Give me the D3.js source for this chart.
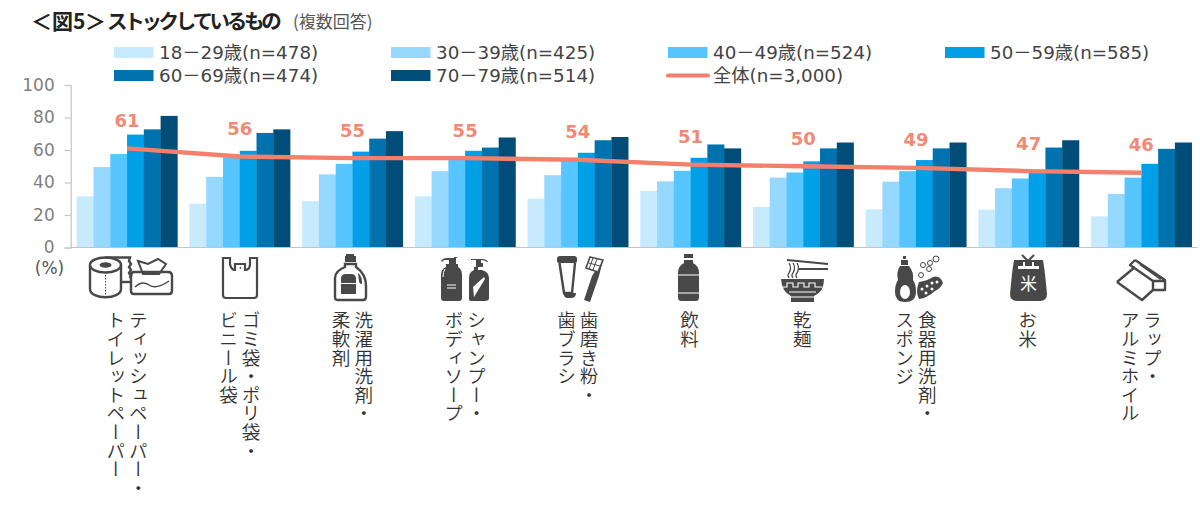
<!DOCTYPE html>
<html lang="ja">
<head>
<meta charset="utf-8">
<title>ストックしているもの</title>
<script src="https://cdn.jsdelivr.net/npm/d3@7/dist/d3.min.js"></script>
<style>
  html, body { margin: 0; padding: 0; background: #fff; }
  svg { display: block; }
  text { font-family: "DejaVu Sans", "Noto Sans CJK JP", sans-serif; }
  .cjk { font-family: "Noto Sans CJK JP", sans-serif; }
  .axis-x, .axis-y path, .axis-y line { stroke: #c4c4c4; }
  .vlabel { writing-mode: vertical-rl; font-size: 18.6px; fill: #333; font-family: "Noto Sans CJK JP", sans-serif; font-weight: 350; }
</style>
</head>
<body>
<svg id="chart" width="1200" height="515" lang="ja"></svg>
<script>
// Stock items, each with its vertical label split into columns (right column first)
const categories = ["tissue", "bags", "detergent", "shampoo", "dental", "drinks", "noodles", "dish", "rice", "wrap"];
const categoryLabels = [
  ["ティッシュペーパー・", "トイレットペーパー"],
  ["ゴミ袋・ポリ袋・", "ビニール袋"],
  ["洗濯用洗剤・", "柔軟剤"],
  ["シャンプー・", "ボディソープ"],
  ["歯磨き粉・", "歯ブラシ"],
  ["飲料"],
  ["乾麺"],
  ["食器用洗剤・", "スポンジ"],
  ["お米"],
  ["ラップ・", "アルミホイル"]
];

// Share of respondents per age group (%)
const age18to29 = [31.5, 27, 28.5, 31.5, 30, 34.8, 25, 23.5, 23.3, 19.2];
const age30to39 = [49.5, 43.5, 45, 47, 44.5, 40.7, 43, 40.5, 36.5, 33];
const age40to49 = [57.5, 55.5, 51.5, 54.5, 53.5, 47.2, 46.2, 47, 42.5, 43];
const age50to59 = [69.5, 59.5, 59, 59.5, 58.3, 55.2, 53, 53.8, 46.5, 51.5];
const age60to69 = [72.7, 70.5, 67, 61.5, 66, 63.4, 61, 61, 61.5, 60.7];
const age70to79 = [81, 72.7, 71.6, 67.7, 68, 61, 64.6, 64.6, 66, 64.6];
const overall = [61, 56, 55, 55, 54, 51, 50, 49, 47, 46];

const ageSeries = [age18to29, age30to39, age40to49, age50to59, age60to69, age70to79];
const ageColors = ["#c8eaff", "#96d8ff", "#57c5ff", "#009fe8", "#0072ad", "#004e78"];
const ageLegend = ["18－29歳(n=478)", "30－39歳(n=425)", "40－49歳(n=524)", "50－59歳(n=585)", "60－69歳(n=474)", "70－79歳(n=514)"];
const overallLegend = "全体(n=3,000)";
const yTicks = [0, 20, 40, 60, 80, 100];

const INK = "#484848";
const LINE = "#f47f6c";
const svg = d3.select("#chart");

const x = d3.scaleBand().domain(categories).range([70.7, 1197.7]).paddingInner(0.107).paddingOuter(0.0535);
const xAge = d3.scaleBand().domain(d3.range(ageSeries.length)).range([0, x.bandwidth()]);
const y = d3.scaleLinear().domain([0, 100]).range([247.5, 85]);
const cx = c => x(c) + x.bandwidth() / 2;

// Title: the bracketed figure number and the tighter kana run are set separately
const titleParts = [
  { text: "＜", at: 31 }, { text: "図", at: 52 }, { text: "5", at: 73 }, { text: "＞", at: 85 }
];
titleParts.forEach(p => {
  svg.append("text").attr("class", "cjk").attr("x", p.at).attr("y", 29).attr("font-size", 21)
    .attr("font-weight", 700).attr("fill", "#222").text(p.text);
});
svg.append("text").attr("class", "cjk").attr("x", 107).attr("y", 29).attr("font-size", 20.5)
  .attr("font-weight", 700).attr("fill", "#222").attr("letter-spacing", -3.3).text("ストックしているもの");
svg.append("text").attr("x", 293).attr("y", 28).attr("class", "cjk").attr("font-size", 17).attr("fill", "#555").text("(複数回答)");

// Legend: four columns across the top row, the rest on the second
const legendX = [114, 391, 668, 945];
const legendY = [52.5, 75.5];
ageLegend.forEach((label, i) => {
  const lx = legendX[i < 4 ? i : i - 4], ly = legendY[i < 4 ? 0 : 1];
  svg.append("rect").attr("x", lx).attr("y", ly - 5.5).attr("width", 39.5).attr("height", 11).attr("fill", ageColors[i]);
  svg.append("text").attr("x", lx + 45).attr("y", ly + 6.4).attr("font-size", 18.3).attr("fill", "#444").text(label);
});
svg.append("line").attr("x1", 668).attr("x2", 708).attr("y1", legendY[1]).attr("y2", legendY[1])
  .attr("stroke", LINE).attr("stroke-width", 4).attr("stroke-linecap", "round");
svg.append("text").attr("x", 713).attr("y", legendY[1] + 6.4).attr("font-size", 18.3).attr("fill", "#444").text(overallLegend);

// Bars
const groups = svg.append("g").selectAll("g").data(categories).join("g")
  .attr("transform", d => `translate(${x(d)},0)`);
groups.each(function (c, ci) {
  d3.select(this).selectAll("rect").data(ageSeries.map(s => s[ci])).join("rect")
    .attr("x", (d, i) => xAge(i))
    .attr("y", d => y(d))
    .attr("width", xAge.bandwidth() + 0.3)
    .attr("height", d => y(0) - y(d))
    .attr("fill", (d, i) => ageColors[i]);
});

// Value axis and baseline
const yAxis = svg.append("g").attr("class", "axis-y").attr("transform", "translate(70.7,0)")
  .call(d3.axisLeft(y).tickValues(yTicks).tickSize(6).tickPadding(10));
yAxis.selectAll("path, line").attr("stroke", "#c4c4c4").attr("stroke-width", 1.2);
yAxis.selectAll("text").attr("font-size", 17).attr("fill", "#7f7f7f").attr("font-family", '"DejaVu Sans", sans-serif');
svg.append("line").attr("class", "axis-x").attr("x1", 70.7).attr("x2", 1197.7).attr("y1", y(0)).attr("y2", y(0)).attr("stroke-width", 1.2);
svg.append("text").attr("x", 49.5).attr("y", 274).attr("text-anchor", "middle").attr("font-size", 17).attr("fill", "#555").text("(%)");

// Overall line with its value labels
const overallLine = d3.line().x((d, i) => cx(categories[i])).y(d => y(d));
svg.append("path").datum(overall).attr("d", overallLine).attr("fill", "none")
  .attr("stroke", LINE).attr("stroke-width", 4.4).attr("stroke-linejoin", "round");
svg.append("g").selectAll("text").data(overall).join("text")
  .attr("x", (d, i) => cx(categories[i]))
  .attr("y", d => y(d) - 21.5)
  .attr("text-anchor", "middle")
  .attr("font-size", 18)
  .attr("font-weight", 700)
  .attr("fill", "#f08a76")
  .text(d => d);

// Vertical category labels, columns read right to left
categoryLabels.forEach((cols, i) => {
  const c = cx(categories[i]);
  const gap = 22.6;
  cols.forEach((txt, k) => {
    const offset = cols.length === 1 ? -1 : (k === 0 ? gap / 2 : -gap / 2);
    svg.append("text").attr("class", "vlabel").attr("lang", "ja")
      .attr("x", c + offset).attr("y", 311).text(txt);
  });
});

// Pictograms, each drawn in its own local coordinates and placed under its category
const icons = {
  tissue(g) {
    const o = g.append("g").attr("fill", "none").attr("stroke", INK).attr("stroke-width", 2.4);
    o.append("path").attr("d", "M0,8 V32 C0,43 31,43 31,32 V8");
    o.append("ellipse").attr("cx", 15.5).attr("cy", 8).attr("rx", 15.5).attr("ry", 7.5);
    o.append("path").attr("d", "M15.5,0.5 H40 L39,4 L41,7 L39,10 L41,13 L39,16 L41,19 L39.5,21");
    o.append("path").attr("d", "M31,25 H41");
    o.append("path").attr("d", "M15.5,18 V38").attr("stroke-width", 1).attr("stroke-dasharray", "1.5 1.5");
    o.append("path").attr("d", "M44,15 H78 Q82,15 82,19 V34 Q82,37 79,37 H44 Q41,37 41,34 V19 Q41,15 44,15 Z");
    o.append("path").attr("d", "M48,4 L58,7 L68,2 L76,7 L69,17 L53,17 Z").attr("stroke-width", 2);
    o.append("path").attr("d", "M45,30 Q52,23 59,28 Q66,33 79,24").attr("stroke-width", 1.5);
    g.append("ellipse").attr("cx", 15.5).attr("cy", 8).attr("rx", 6).attr("ry", 2.8).attr("fill", INK);
  },
  bags(g) {
    g.append("path").attr("fill", "none").attr("stroke", INK).attr("stroke-width", 2.2)
      .attr("d", "M1,1 H8 V7 Q9,13 13,13 V7 H23 V13 Q28,13 28,7 V1 H35 V38 Q35,41 32,41 H4 Q1,41 1,38 Z");
    g.append("circle").attr("cx", 18.5).attr("cy", 11).attr("r", 0.9).attr("fill", INK);
  },
  detergent(g) {
    g.append("path").attr("fill", INK).attr("d", "M12,0 H20 V2 H22 V8 H11 V2 H12 Z");
    g.append("path").attr("fill", "none").attr("stroke", INK).attr("stroke-width", 2.4)
      .attr("d", "M11,10 H22 V13 Q32,20 32,32 V43 Q32,46 29,46 H4 Q1,46 1,43 V24 Q1,17 11,13 Z");
    g.append("path").attr("fill", INK).attr("d", "M7,25 Q7,20 12,20 H17 Q22,20 22,25 V40 H7 Z");
    g.append("path").attr("fill", "#fff").attr("d", "M7,29 H22 V30 H7 Z");
    g.append("path").attr("fill", INK).attr("d", "M24,19 Q28,22 28,28 V30 Q25,30 25,27 Z");
  },
  shampoo(g) {
    g.append("path").attr("fill", INK).attr("d", "M0,4 Q2,1 6,1 H13 V0 H16 V1 H15 V7 H17 V10 Q21,12 21,18 V41 Q21,44 18,44 H3 Q0,44 0,41 V18 Q0,12 5,10 V7 H8 V3 H4 Q2,3 1,5 Z");
    g.append("path").attr("stroke", "#fff").attr("stroke-width", 1).attr("d", "M6,28 H15 M6,31 H15 M4,12 Q2,15 2,20");
    g.append("path").attr("fill", INK).attr("d", "M30,2 H41 Q46,2 47,5 L46,5 Q44,3 40,3 V6 H42 V10 H37 V13 H41 Q48,15 48,21 V42 Q47,44 44,44 H31 Q28,44 28,42 V21 Q28,15 33,13 V10 H35 V3 H30 Z");
    g.append("path").attr("fill", "#fff").attr("d", "M43,20 L44,22 L33,40 L32,30 Z");
  },
  dental(g) {
    g.append("path").attr("fill", INK).attr("d", "M0,3 Q0,0 3,0 H17 Q20,0 20,3 V5 Q20,7 18,7 H2 Q0,7 0,5 Z");
    g.append("path").attr("fill", "none").attr("stroke", INK).attr("stroke-width", 2.4).attr("d", "M2.5,7 L7,37 H15 L18,7");
    g.append("path").attr("fill", INK).attr("d", "M6.5,37 H19 Q19,42 14,42 H11 Q6.5,42 6.5,37 Z");
    g.append("path").attr("fill", INK).attr("d", "M46,4 L42,20 L33,46 L27,44 L35,20 L39,14 Z");
    g.append("path").attr("fill", "#fff").attr("stroke", INK).attr("stroke-width", 1.6).attr("d", "M33,1 L46,4 L41,16 L29,12 Z");
    g.append("path").attr("stroke", INK).attr("stroke-width", 1).attr("d", "M32,7 L43,10 M36,2 L32,13 M40,3 L36,14");
  },
  drinks(g) {
    g.append("path").attr("fill", INK).attr("d", "M6,0 H15 V4 H6 Z M6,6 H15 V9 Q21,12 21,19 V43 Q21,47 18,47 H3 Q0,47 0,43 V19 Q0,12 6,9 Z");
    g.append("path").attr("stroke", "#fff").attr("stroke-width", 1.2).attr("d", "M0,21 H21 M0,39 H21");
  },
  noodles(g) {
    g.append("path").attr("stroke", INK).attr("stroke-width", 1.8).attr("fill", "none").attr("d", "M6,1 L47,5 M17,10 L47,10");
    g.append("path").attr("stroke", INK).attr("stroke-width", 1.3).attr("fill", "none").attr("d", "M8,4 Q11,9 8,14 Q6,16 8,19 M12,4 Q15,9 12,14 Q10,16 12,19 M16,4 Q19,9 16,14 Q14,16 16,19");
    g.append("path").attr("fill", INK).attr("d", "M0,20 H43 Q43,33 33,37 V43 H10 V37 Q1,33 0,20 Z");
    g.append("path").attr("stroke", "#fff").attr("stroke-width", 1.1).attr("fill", "none")
      .attr("d", "M2,28 H6 V24 H12 V28 H17 V24 H23 V28 H28 V24 H34 V28 H41 M8,33 H35 M10,38 H33");
  },
  dish(g) {
    g.append("path").attr("fill", INK).attr("d", "M8,0 H11 V3 H8 Z M6,4 H13 V9 H6 Z M5,10 H14 Q19,16 18,24 Q21,28 21,36 Q21,46 10,46 Q0,46 0,36 Q0,28 3,24 Q1,16 5,10 Z");
    g.append("ellipse").attr("cx", 10).attr("cy", 36).attr("rx", 5).attr("ry", 7).attr("fill", "#fff");
    g.append("path").attr("fill", INK).attr("d", "M24,26 Q32,25 38,21 Q45,19 48,27 Q45,33 40,35 Q32,42 24,43 Q20,36 24,26 Z");
    g.append("g").attr("fill", "#fff").selectAll("circle")
      .data([[27, 33, 1.5], [32, 30, 1.5], [37, 27, 1.5], [42, 26, 1.5], [31, 37, 1.5], [37, 33, 1.5]]).join("circle")
      .attr("cx", d => d[0]).attr("cy", d => d[1]).attr("r", d => d[2]);
    g.append("g").attr("fill", "none").attr("stroke", INK).attr("stroke-width", 1).selectAll("circle")
      .data([[28, 9, 2.5], [35, 7, 2.5], [34, 13, 2.5], [41, 3, 3], [26, 19, 2.5]]).join("circle")
      .attr("cx", d => d[0]).attr("cy", d => d[1]).attr("r", d => d[2]);
  },
  rice(g) {
    g.append("path").attr("stroke", INK).attr("stroke-width", 2).attr("fill", "none").attr("d", "M12,1 L18,7 L24,1");
    g.append("path").attr("fill", INK).attr("d", "M4,6 H33 Q34,12 35,20 L37,40 Q37,47 30,47 H7 Q0,47 0,40 L2,20 Q3,12 4,6 Z");
    g.append("path").attr("fill", "#fff").attr("d", "M8,12 H29 V15 H8 Z M13,8 H15 V12 H13 Z M22,8 H24 V12 H22 Z");
    g.append("text").attr("class", "cjk").attr("x", 18.5).attr("y", 36).attr("text-anchor", "middle")
      .attr("font-size", 17).attr("fill", "#fff").text("米");
  },
  wrap(g) {
    g.append("path").attr("fill", "none").attr("stroke", INK).attr("stroke-width", 2.4).attr("stroke-linejoin", "round")
      .attr("d", "M1,23 L19,8 M1,23 L26,41 L37,31 M19,1 L49,21 V31 H37 V22 H49 M37,22 L14,6 L19,1 M24,5 L45,20");
  }
};
const iconBoxes = { tissue: [90, 257], bags: [222, 257], detergent: [334, 254], shampoo: [441, 257], dental: [557, 256], drinks: [678, 254], noodles: [781, 259], dish: [895, 256], rice: [1010, 254], wrap: [1116, 259] };
categories.forEach(c => {
  const [ix, iy] = iconBoxes[c];
  icons[c](svg.append("g").attr("transform", `translate(${ix},${iy})`));
});
</script>
</body>
</html>
